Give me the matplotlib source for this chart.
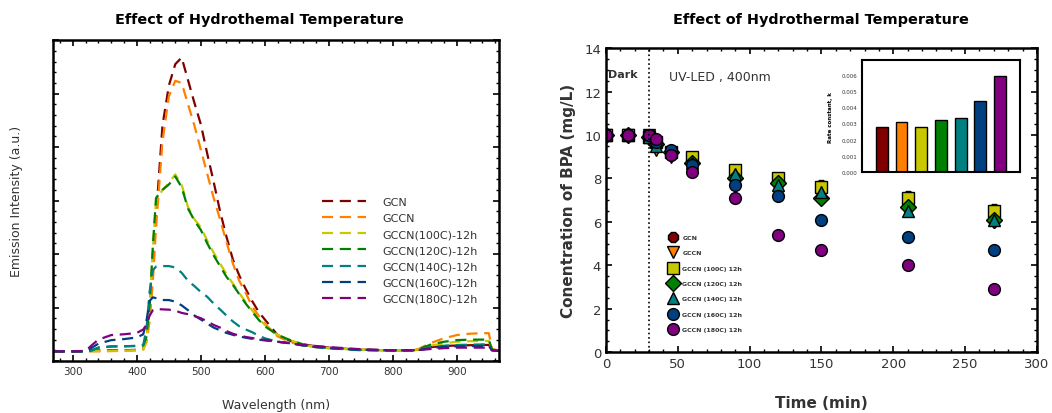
import matplotlib
matplotlib.use('Agg')
import matplotlib.pyplot as plt
from matplotlib.ticker import MultipleLocator, FormatStrFormatter, NullFormatter

# ---- emission spectra (left panel) ----
wavelength = [270, 300, 320, 330, 340, 360, 380, 400, 410, 415, 420, 425, 430, 440, 450, 460,
              470, 480, 490, 500, 510, 520, 530, 540, 550, 560, 570, 580, 590, 600, 620, 640,
              660, 680, 700, 750, 800, 830, 840, 860, 880, 900, 920, 940, 950, 955, 965]

pl_gcn = [36, 36, 36, 38, 40, 40, 40, 42, 45, 80, 180, 380, 540, 880, 1030, 1110,
          1135, 1050, 965, 885, 775, 670, 560, 465, 380, 320, 270, 225, 185, 155, 97, 75,
          62, 55, 50, 42, 40, 40, 42, 52, 56, 58, 59, 60, 60, 42, 40]
pl_gccn = [36, 36, 36, 36, 36, 37, 38, 40, 45, 70, 150, 300, 500, 820, 990, 1048,
           1040, 960, 880, 790, 700, 610, 530, 445, 365, 300, 255, 205, 170, 140, 92, 70,
           58, 52, 48, 42, 40, 40, 45, 68, 85, 97, 102, 104, 104, 45, 40]
pl_100 = [36, 36, 36, 37, 38, 38, 38, 40, 42, 80, 200, 420, 600, 640, 665, 698,
          660, 575, 530, 500, 450, 405, 365, 325, 290, 255, 220, 190, 160, 135, 98, 78,
          60, 53, 48, 42, 40, 40, 43, 58, 66, 72, 74, 75, 75, 42, 40]
pl_120 = [36, 36, 36, 40, 50, 54, 55, 56, 58, 90, 210, 430, 610, 640, 660, 690,
          650, 570, 525, 490, 440, 395, 355, 315, 285, 250, 215, 185, 155, 130, 97, 78,
          62, 55, 50, 42, 40, 40, 44, 62, 72, 78, 80, 80, 80, 42, 40]
pl_140 = [36, 36, 36, 40, 50, 55, 55, 57, 60, 120, 260, 340, 353, 355, 355, 350,
          330, 300, 280, 258, 240, 215, 193, 170, 148, 130, 118, 108, 95, 85, 72, 66,
          58, 52, 48, 40, 38, 40, 42, 52, 57, 60, 61, 62, 62, 40, 38]
pl_160 = [36, 36, 36, 50, 65, 78, 82, 88, 100, 150, 225, 238, 235, 228, 228, 222,
          208, 190, 170, 155, 140, 125, 115, 105, 98, 92, 87, 83, 80, 77, 72, 66,
          58, 52, 48, 42, 40, 40, 41, 48, 53, 55, 56, 56, 56, 40, 38]
pl_180 = [36, 36, 38, 60, 80, 97, 100, 105, 118, 135, 170, 190, 195, 193, 192, 188,
          180, 175, 168, 160, 148, 135, 125, 112, 102, 95, 90, 86, 82, 79, 72, 67,
          60, 56, 52, 44, 40, 40, 41, 45, 48, 50, 50, 50, 50, 40, 38]

# ---- BPA degradation (right panel) ----
time_min = [0, 15, 30, 35, 45, 60, 90, 120, 150, 210, 270]
bpa_gcn = [10.0, 10.0, 10.0, 9.7, 9.2, 8.9, 8.3, 7.9, 7.7, 7.2, 6.6]
bpa_gccn = [10.0, 10.0, 10.0, 9.3, 9.0, 8.6, 7.9, 7.6, 7.2, 6.6, 6.0]
bpa_100 = [10.0, 10.0, 9.9, 9.7, 9.2, 9.0, 8.4, 8.0, 7.6, 7.1, 6.5]
bpa_120 = [10.0, 10.0, 9.9, 9.6, 9.2, 8.7, 8.0, 7.8, 7.1, 6.7, 6.1]
bpa_140 = [10.0, 10.0, 9.9, 9.5, 9.3, 8.7, 8.2, 7.7, 7.4, 6.5, 6.1]
bpa_160 = [10.0, 10.0, 10.0, 9.7, 9.3, 8.6, 7.7, 7.2, 6.1, 5.3, 4.7]
bpa_180 = [10.0, 10.0, 10.0, 9.8, 9.1, 8.3, 7.1, 5.4, 4.7, 4.0, 2.9]

# ---- rate constants (inset) ----
rate_k = [0.0028, 0.0031, 0.0028, 0.0032, 0.0033, 0.0044, 0.0059]

pl_labels = ['GCN', 'GCCN', 'GCCN(100C)-12h', 'GCCN(120C)-12h', 'GCCN(140C)-12h',
             'GCCN(160C)-12h', 'GCCN(180C)-12h']
bpa_labels = ['GCN', 'GCCN', 'GCCN (100C) 12h', 'GCCN (120C) 12h', 'GCCN (140C) 12h',
              'GCCN (160C) 12h', 'GCCN (180C) 12h']
colors = ['#800000', '#ff8000', '#c8c800', '#008000', '#008080', '#004080', '#800080']
markers = ['8', 'v', 's', 'D', '^', 'o', 'o']

fig = plt.figure(figsize=(10.52, 4.14), dpi=100)
txt = '#333333'

# titles
fig.text(0.247, 0.952, 'Effect of Hydrothemal Temperature', fontsize=10.4, fontweight='bold',
         ha='center', va='center')
fig.text(0.780, 0.952, 'Effect of Hydrothermal Temperature', fontsize=10.4, fontweight='bold',
         ha='center', va='center')

# left panel
ax1 = fig.add_axes([0.0504, 0.1256, 0.424, 0.775])
spectra = [pl_gcn, pl_gccn, pl_100, pl_120, pl_140, pl_160, pl_180]
for s, c, lab in zip(spectra, colors, pl_labels):
    ax1.plot(wavelength, s, color=c, lw=1.6, ls=(0, (5, 3)), label=lab)
ax1.set_xlim(269, 966)
ax1.set_ylim(0, 1200)
ax1.xaxis.set_major_locator(MultipleLocator(100))
ax1.xaxis.set_minor_locator(MultipleLocator(20))
ax1.yaxis.set_major_locator(MultipleLocator(200))
ax1.yaxis.set_minor_locator(MultipleLocator(40))
ax1.yaxis.set_major_formatter(NullFormatter())
ax1.tick_params(which='both', direction='in', top=True, right=True, labelsize=7.5, labelcolor=txt)
ax1.tick_params(which='major', length=4, width=1.2)
ax1.tick_params(which='minor', length=2, width=1)
for sp in ax1.spines.values():
    sp.set_linewidth(1.8)
ax1.set_xlabel('Wavelength (nm)', fontsize=9, color=txt, labelpad=16)
ax1.set_ylabel('Emission Intensity (a.u.)', fontsize=9, color=txt, labelpad=18)
ax1.legend(loc='center left', bbox_to_anchor=(0.58, 0.345), frameon=False, fontsize=8,
           handlelength=4.0, handletextpad=1.5, labelspacing=0.56, labelcolor=txt)

# right panel
ax2 = fig.add_axes([0.576, 0.147, 0.4097, 0.734])
series = [bpa_gcn, bpa_gccn, bpa_100, bpa_120, bpa_140, bpa_160, bpa_180]
for s, c, m, lab in zip(series, colors, markers, bpa_labels):
    ax2.plot(time_min, s, ls='none', marker=m, ms=8.5, mfc=c, mec='black', mew=1, label=lab)
ax2.axvline(30, color='black', ls=':', lw=1.2)
ax2.set_xlim(0, 300)
ax2.set_ylim(0, 14)
ax2.xaxis.set_major_locator(MultipleLocator(50))
ax2.xaxis.set_minor_locator(MultipleLocator(10))
ax2.yaxis.set_major_locator(MultipleLocator(2))
ax2.yaxis.set_minor_locator(MultipleLocator(0.5))
ax2.tick_params(which='both', direction='in', top=True, right=True, labelsize=9.5, labelcolor=txt)
ax2.tick_params(which='major', length=4, width=1.2)
ax2.tick_params(which='minor', length=2, width=1)
for sp in ax2.spines.values():
    sp.set_linewidth(1.8)
ax2.set_xlabel('Time (min)', fontsize=11, fontweight='bold', color=txt, labelpad=18)
ax2.set_ylabel('Conentration of BPA (mg/L)', fontsize=11, fontweight='bold', color=txt, labelpad=6)
ax2.text(1.5, 12.8, 'Dark', fontsize=8, fontweight='bold', color=txt, va='center')
ax2.text(44, 12.7, 'UV-LED , 400nm', fontsize=9, color=txt, va='center')
ax2.legend(loc='upper left', bbox_to_anchor=(0.135, 0.395), frameon=False,
           handletextpad=0.5, labelspacing=1.6, borderaxespad=0, labelcolor=txt,
           prop={'size': 4.5, 'weight': 'bold'})

# inset bars
ax3 = fig.add_axes([0.8194, 0.582, 0.150, 0.2705])
ax3.bar(range(len(rate_k)), rate_k, width=0.6, color=colors, edgecolor='black', lw=1)
ax3.set_xlim(-1, 7)
ax3.set_ylim(0, 0.0069)
ax3.set_xticks([])
ax3.yaxis.set_major_locator(MultipleLocator(0.001))
ax3.yaxis.set_major_formatter(FormatStrFormatter('%.3f'))
ax3.tick_params(axis='y', length=0, labelsize=4, labelcolor=txt)
for sp in ax3.spines.values():
    sp.set_linewidth(1.5)
ax3.set_ylabel('Rate constant, k', fontsize=4, fontweight='bold', labelpad=6)

fig.savefig('out.png', dpi=100)
